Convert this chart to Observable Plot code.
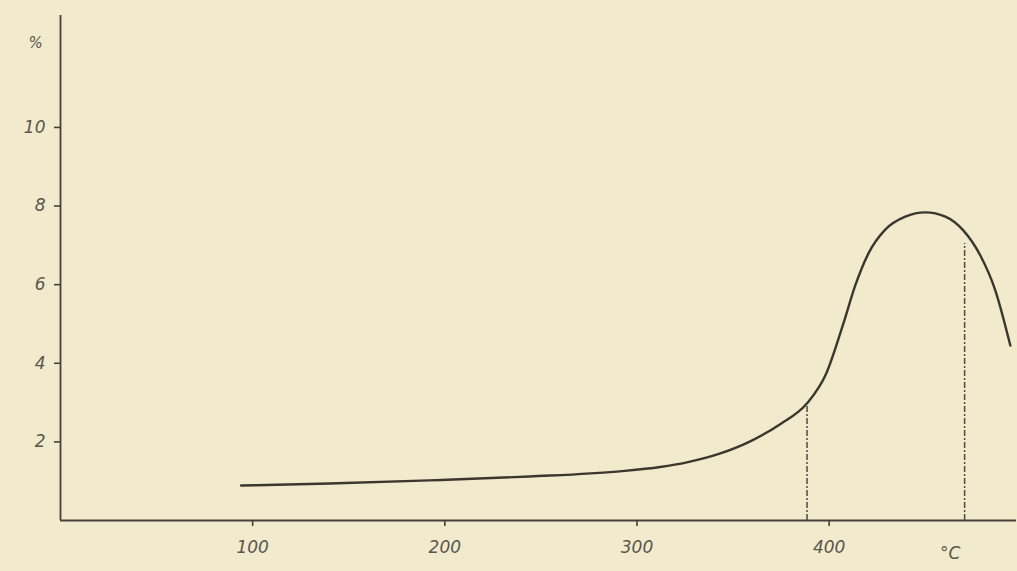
<!DOCTYPE html>
<html>
<head>
<meta charset="utf-8">
<script src="https://cdn.jsdelivr.net/npm/d3@7"></script>
<script src="https://cdn.jsdelivr.net/npm/@observablehq/plot@0.6"></script>
<style>
  html, body { margin: 0; padding: 0; background: #f2eacd; }
  #chart svg { display: block; }
</style>
</head>
<body>
<div id="chart"></div>
<script>
// Temperature (°C) and percentage
const temps = [94, 140, 192, 244, 291, 312, 326, 343, 360, 374.5, 388.5, 398.5, 407.4, 413.6, 420.4, 429.2, 439.6, 450.1, 460.5, 469.8, 478.7, 486.5, 494.3];
const pct   = [0.89, 0.94, 1.02, 1.12, 1.25, 1.36, 1.48, 1.70, 2.04, 2.45, 2.98, 3.74, 5.01, 5.98, 6.79, 7.40, 7.73, 7.84, 7.73, 7.38, 6.74, 5.85, 4.45];

// Dashed marker lines (temperature, top value)
const markerTemps = [388.5, 470.5];
const markerTops  = [2.98, 7.05];

const xTicks = [100, 200, 300, 400];
const yTicks = [2, 4, 6, 8, 10];
const xUnit = "°C";
const yUnit = "%";

const curve = temps.map((t, i) => ({t, p: pct[i]}));
const markers = markerTemps.map((t, i) => ({t, top: markerTops[i]}));

const ink = "#45413a";
const labelFont = "DejaVu Sans";

const plot = Plot.plot({
  width: 1017,
  height: 571,
  marginLeft: 60,
  marginRight: 1,
  marginTop: 9,
  marginBottom: 51,
  style: {background: "#f2eacd", fontFamily: labelFont, fontSize: "17px", fontStyle: "italic", color: "#56524a"},
  x: {domain: [0, 497.5]},
  y: {domain: [0, 13]},
  marks: [
    Plot.axisX({ticks: xTicks, tickSize: 6, tickPadding: 14, label: null, stroke: ink, strokeWidth: 1.6,
      fill: "#5a564c", fontSize: 17, fontStyle: "italic", fontWeight: 300, letterSpacing: "1.5px"}),
    Plot.axisY({ticks: yTicks, tickSize: 6, tickPadding: 9, label: null, stroke: ink, strokeWidth: 1.6,
      fill: "#5a564c", fontSize: 17, fontStyle: "italic", fontWeight: 300, letterSpacing: "1px"}),
    Plot.ruleY([0], {stroke: ink, strokeWidth: 1.8}),
    Plot.ruleX([0], {y1: 0, y2: 12.85, stroke: ink, strokeWidth: 1.8}),
    Plot.ruleX(markers, {x: "t", y1: 0, y2: "top", stroke: "#4e4a42", strokeWidth: 1.5, strokeDasharray: "6,2,2,2"}),
    Plot.line(curve, {x: "t", y: "p", curve: "monotone-x", stroke: "#3b372f", strokeWidth: 2.4}),
    Plot.text([yUnit], {x: 0, y: 12.15, dx: -25, text: d => d, fill: "#5a564c", fontSize: 15, fontStyle: "italic"}),
    Plot.text([xUnit], {x: 463, y: 0, dy: 33, text: d => d, fill: "#5a564c", fontSize: 17, fontStyle: "italic"})
  ]
});

document.getElementById("chart").appendChild(plot);
</script>
</body>
</html>
